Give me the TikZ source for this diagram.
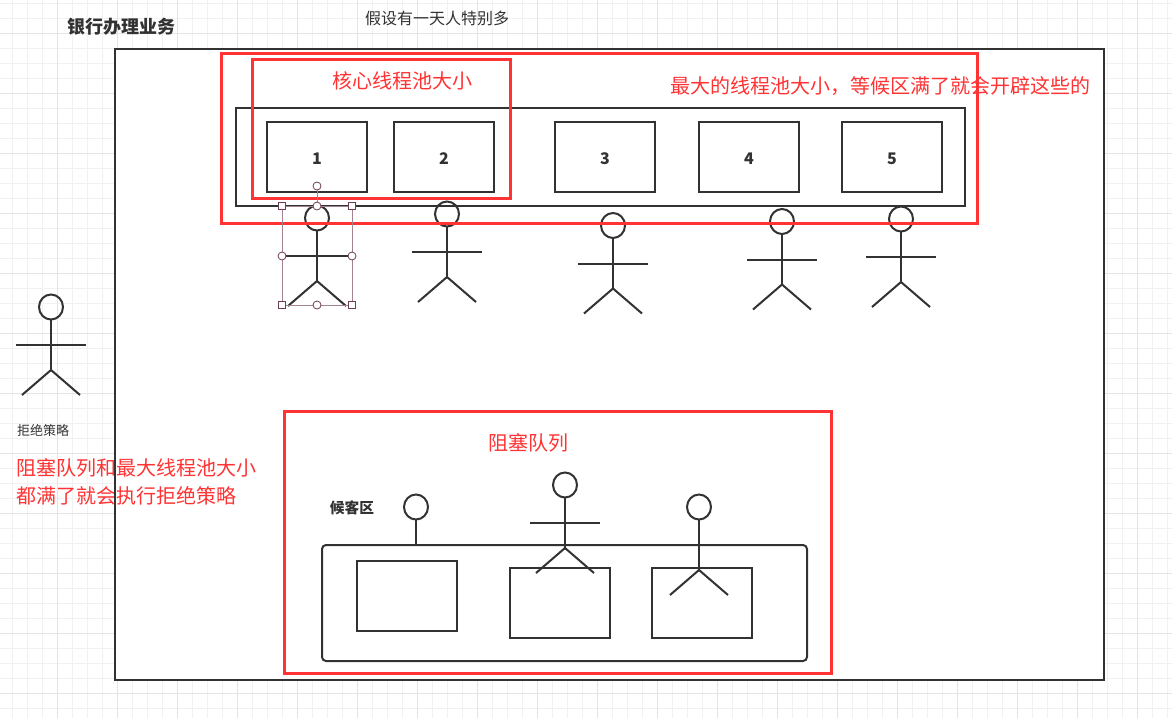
\documentclass[tikz,border=0pt]{standalone}
\usepackage{fontspec}
\setmainfont{Noto Sans CJK SC}
\usetikzlibrary{positioning}
\definecolor{inkgrey}{RGB}{50, 50, 50}
\definecolor{markred}{RGB}{255, 51, 51}
\definecolor{gridfine}{RGB}{241, 241, 243}
\definecolor{gridbold}{RGB}{228, 228, 231}
\definecolor{handlegrey}{RGB}{165, 130, 145}
\definecolor{handledark}{RGB}{110, 60, 85}
\tikzset{
  line/.style={draw=inkgrey, line width=2pt},
  cellbox/.style={line, fill=white, minimum width=100pt, minimum height=70pt,
    inner sep=0pt, text=inkgrey, text height=14.7pt, text depth=0pt,
    font=\fontsize{16}{18}\selectfont\bfseries},
  redbox/.style={draw=markred, line width=3pt},
  redtext/.style={text=markred, font=\fontsize{20}{28}\selectfont, inner sep=0pt},
  darktext/.style={text=inkgrey, inner sep=0pt},
  handlesquare/.style={draw=handledark, fill=white, line width=0.8pt, minimum size=7pt, inner sep=0pt},
  handleround/.style={circle, draw=handledark, fill=white, line width=0.8pt, minimum size=8pt, inner sep=0pt}
}

\begin{document}
\begin{tikzpicture}[x=1pt, y=-1pt]
    \useasboundingbox (0,0) rectangle (1172,718);

    % head at (#1,#2), the rest hangs below it
    \def\stickman#1#2{
      \draw[line] (#1,#2) ellipse (12 and 12.5);
      \draw[line] (#1,#2+12.5) -- (#1,#2+63);
      \draw[line] (#1-35,#2+38) -- (#1+35,#2+38);
      \draw[line] (#1-29,#2+88) -- (#1,#2+63) -- (#1+29,#2+88);
    }

    % Background grid
    \fill[white] (0,0) rectangle (1172,718);
    \foreach \x in {12,27,...,1167} \draw[gridfine, line width=0.8pt] (\x,0) -- (\x,718);
    \foreach \y in {3,18,...,708} \draw[gridfine, line width=0.8pt] (0,\y) -- (1172,\y);
    \foreach \x in {57,117,...,1137} \draw[gridbold, line width=0.8pt] (\x,0) -- (\x,718);
    \foreach \y in {33,93,...,693} \draw[gridbold, line width=0.8pt] (0,\y) -- (1172,\y);

    % Bank hall
    \fill[white] (115,49) rectangle (1104,680);

    % Left side notes
    \node[redtext, align=left, anchor=north west] (rejectnote) at (16,458)
        {阻塞队列和最大线程池大小\\都满了就会执行拒绝策略};
    \draw[line] (115,49) rectangle (1104,680);

    % Titles
    \node[darktext, font=\fontsize{18}{20}\selectfont\bfseries] (banktitle) at (121,27) {银行办理业务};
    \node[darktext, font=\fontsize{16}{18}\selectfont] (busyday) at (437,18) {假设有一天人特别多};
    \node[darktext, font=\fontsize{13}{15}\selectfont] (rejectlabel) at (43,430) {拒绝策略};

    % Windows
    \draw[line] (236,108) rectangle (965,206);
    \node[cellbox] (win1) at (317,157) {1};
    \node[cellbox] (win2) at (444,157) {2};
    \node[cellbox] (win3) at (605,157) {3};
    \node[cellbox] (win4) at (749,157) {4};
    \node[cellbox] (win5) at (892,157) {5};

    % People at the windows
    \stickman{317}{218}
    \stickman{447}{214}
    \stickman{613}{225.5}
    \stickman{782}{221.5}
    \stickman{901}{219}
    \stickman{51}{307}

    % Waiting area
    \node[darktext, font=\fontsize{14.7}{16}\selectfont\bfseries] (waitlabel) at (352,508) {候客区};
    \stickman{416}{507}
    \draw[line, fill=white, rounded corners=4pt] (322,545) rectangle (807,661);
    \node[cellbox] (seat1) at (407,596) {};
    \node[cellbox] (seat2) at (560,603) {};
    \node[cellbox] (seat3) at (702,603) {};
    \stickman{565}{485}
    \stickman{699}{507}

    % Red marks
    \draw[redbox] (221,53) rectangle (977,223);
    \draw[redbox] (252,59) rectangle (510,198);
    \draw[redbox] (284,411) rectangle (831,673);
    \node[redtext] (corelabel) at (402,81) {核心线程池大小};
    \node[redtext] (maxlabel) at (880,86) {最大的线程池大小，等候区满了就会开辟这些的};
    \node[redtext] (queuelabel) at (528,443) {阻塞队列};

    % Selection handles
    \draw[handlegrey, line width=0.8pt] (282,206) rectangle (352,305);
    \node[handleround] (rotate) at (317,186) {};
    \node[handleround] (topmid) at (317,206) {};
    \draw[handlegrey, line width=0.8pt] (rotate) -- (topmid);
    \node[handleround] (leftmid) at (282,256) {};
    \node[handleround] (rightmid) at (352,256) {};
    \node[handleround] (bottommid) at (317,305) {};
    \node[handlesquare] (topleft) at (282,206) {};
    \node[handlesquare] (topright) at (352,206) {};
    \node[handlesquare] (bottomleft) at (282,305) {};
    \node[handlesquare] (bottomright) at (352,305) {};

\end{tikzpicture}
\end{document}
